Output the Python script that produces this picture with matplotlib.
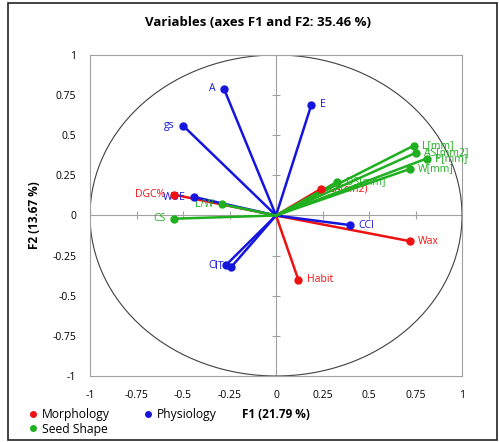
import numpy as np
import matplotlib.pyplot as plt
from matplotlib.lines import Line2D
from matplotlib.patches import Ellipse, Rectangle

plt.rcParams['font.family'] = ['Open Sans', 'DejaVu Sans']

# loadings on F1 / F2, grouped by trait type
morph_names = ['DGC%', 'LA(cm2)', 'Habit', 'Wax']
morph_f1 = [-0.55, 0.24, 0.12, 0.72]
morph_f2 = [0.13, 0.165, -0.40, -0.16]

phys_names = ['A', 'gs', 'E', 'WUE', 'CI', 'IT', 'CCI']
phys_f1 = [-0.28, -0.50, 0.19, -0.44, -0.27, -0.24, 0.40]
phys_f2 = [0.79, 0.56, 0.69, 0.115, -0.31, -0.32, -0.06]

seed_names = ['L/W', 'CS', 'DS[mm]', 'L[mm]', 'AS[mm2]', 'P[mm]', 'W[mm]']
seed_f1 = [-0.29, -0.55, 0.33, 0.74, 0.75, 0.81, 0.72]
seed_f2 = [0.07, -0.02, 0.21, 0.435, 0.39, 0.355, 0.29]

ticks = [-1, -0.75, -0.5, -0.25, 0, 0.25, 0.5, 0.75, 1]
tick_labels = ['-1', '-0.75', '-0.5', '-0.25', '0', '0.25', '0.5', '0.75', '1']

# label placement: which side of the point the name goes
left_labels = {'DGC%', 'A', 'gs', 'WUE', 'L/W', 'CS', 'CI', 'IT'}

groups = [
    (morph_names, morph_f1, morph_f2, '#EE1111', 'Morphology'),
    (phys_names, phys_f1, phys_f2, '#1515DD', 'Physiology'),
    (seed_names, seed_f1, seed_f2, '#1FAF1F', 'Seed Shape'),
]

fig = plt.figure(figsize=(4.99, 4.42), dpi=100)
ax = fig.add_axes([0.1804, 0.1493, 0.7455, 0.7263])
ax.set_xlim(-1, 1)
ax.set_ylim(-1, 1)

gray = '#A0A0A0'
for s in ax.spines.values():
    s.set_color(gray)
    s.set_linewidth(0.8)
ax.axhline(0, color=gray, lw=0.8, zorder=1)
ax.axvline(0, color=gray, lw=0.8, zorder=1)
# small ticks along the zero lines
ax.plot(ticks, [0] * len(ticks), ls='none', marker='|', ms=6, mew=0.8, color=gray, zorder=1)
ax.plot([0] * len(ticks), ticks, ls='none', marker='_', ms=6, mew=0.8, color=gray, zorder=1)

ax.add_patch(Ellipse((0, 0), 2, 2, fill=False, ec='#404040', lw=0.8, zorder=1))

for names, xs, ys, col, _ in groups:
    for name, x, y in zip(names, xs, ys):
        ax.plot([0, x], [0, y], color=col, lw=1.8, zorder=3)
        ax.plot(x, y, 'o', color=col, ms=5, zorder=4)
        if name in left_labels:
            ax.annotate(name, (x, y), xytext=(-6, 0), textcoords='offset points',
                        ha='right', va='center', color=col, fontsize=7.5)
        else:
            ax.annotate(name, (x, y), xytext=(6, 0), textcoords='offset points',
                        ha='left', va='center', color=col, fontsize=7.5)

ax.set_xticks(ticks)
ax.set_xticklabels(tick_labels)
ax.set_yticks(ticks)
ax.set_yticklabels(tick_labels)
ax.tick_params(length=0, labelsize=7.5, pad=10)

ax.set_xlabel('F1 (21.79 %)', fontsize=8.5, fontweight='bold', labelpad=5)
ax.set_ylabel('F2 (13.67 %)', fontsize=8.5, fontweight='bold', labelpad=8)
fig.text(0.5170, 0.950, 'Variables (axes F1 and F2: 35.46 %)', ha='center', va='center',
         fontsize=9.5, fontweight='bold')

# column-major fill: Morphology / Seed Shape in column 1, Physiology in column 2
order = [0, 2, 1]
handles = [Line2D([], [], ls='none', marker='o', ms=4, color=groups[i][3], label=groups[i][4])
           for i in order]
fig.legend(handles=handles, ncol=2, loc='lower left', bbox_to_anchor=(0.03, -0.01),
           frameon=False, fontsize=8.7, handletextpad=0.1, columnspacing=2.6,
           labelspacing=0.15, handlelength=1.2)

# outer frame
fig.patches.append(Rectangle((0.016, 0.004), 0.98, 0.99, transform=fig.transFigure,
                             fill=False, ec='#222222', lw=1.2))

fig.savefig('out.png', dpi=100)
